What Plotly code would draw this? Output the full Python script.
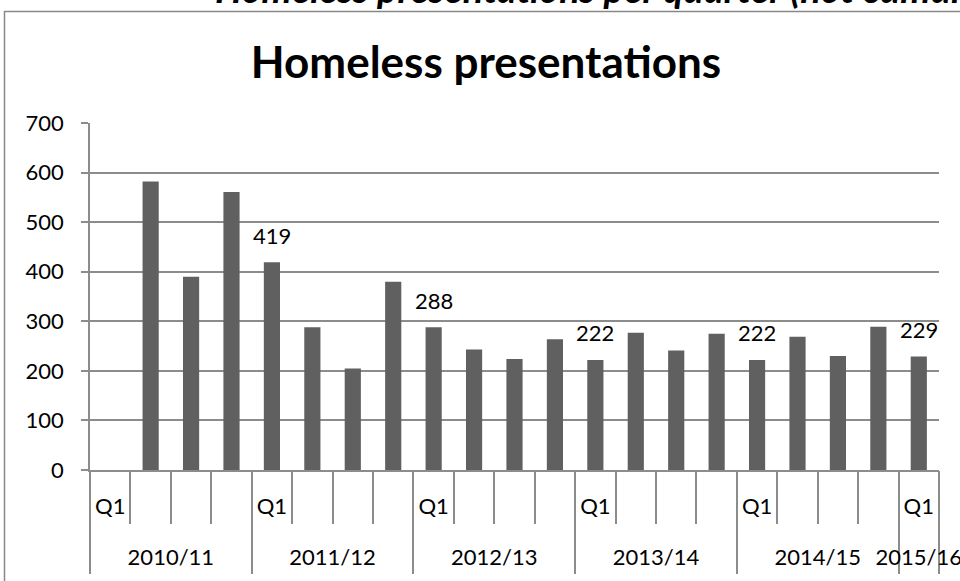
import plotly.graph_objects as go

# ---- data ----
fiscal_years = ["2010/11", "2011/12", "2012/13", "2013/14", "2014/15", "2015/16"]
quarters_per_year = [4, 4, 4, 4, 4, 1]
quarter_labels = ["Q1", "", "", ""]
presentations = [None, 582, 390, 561,
                 419, 288, 205, 380,
                 288, 243, 224, 264,
                 222, 277, 241, 275,
                 222, 269, 230, 289,
                 229]
shown_labels = [None, None, None, None,
                419, None, None, None,
                288, None, None, None,
                222, None, None, None,
                222, None, None, None,
                229]

# ---- category positions derived from the arrays ----
n = len(presentations)
pos = list(range(n))
q_vals, q_text = [], []
year_centers, year_bounds = [], [-0.5]
k = 0
for fy, cnt in zip(fiscal_years, quarters_per_year):
    idx = list(range(k, k + cnt))
    for j, i in enumerate(idx):
        if quarter_labels[j]:
            q_vals.append(i)
            q_text.append(quarter_labels[j])
    year_centers.append(sum(idx) / cnt)
    k += cnt
    year_bounds.append(k - 0.5)
cell_bounds = [b - 0.5 for b in range(n + 1)]

FONT = "Lato"
GRID = "#8c8c8c"
BAR = "#606060"

fig = go.Figure()
fig.add_trace(go.Bar(
    x=pos, y=presentations,
    marker=dict(color=BAR, line=dict(width=0)),
    width=0.4, hoverinfo="skip",
))
# invisible helper trace so the secondary (fiscal-year) axis is drawn
fig.add_trace(go.Scatter(x=[pos[0]], y=[0], xaxis="x2", mode="markers",
                         marker=dict(opacity=0), hoverinfo="skip"))

for i, v in enumerate(shown_labels):
    if v is not None:
        fig.add_annotation(x=pos[i], y=v, text=str(v), showarrow=False,
                           yanchor="middle", yshift=27,
                           font=dict(family=FONT, size=22, color="black"))

fig.add_annotation(xref="paper", yref="paper", x=(213 - 90) / 849, y=1 + (123 - 12.5) / 347,
                   xanchor="left", yanchor="bottom", showarrow=False,
                   text="<b><i>Homeless presentations per quarter (not cumulative)</i></b>",
                   font=dict(family=FONT, size=38, color="black"))

# outer chart border (cropped sheet frame)
bx = (4.5 - 90) / 849
by = 1 + (123 - 11.5) / 347
fig.add_shape(type="path", xref="paper", yref="paper",
              path=f"M {bx} -0.5 L {bx} {by} L 1.2 {by}",
              line=dict(color="#888888", width=1.5))

fig.update_layout(
    width=960, height=581,
    margin=dict(l=90, r=21, t=123, b=111, autoexpand=False),
    paper_bgcolor="white", plot_bgcolor="white",
    showlegend=False,
    title=dict(text="<b>Homeless presentations</b>", x=486/960, xanchor="center",
               y=1 - 63/581, yanchor="middle",
               font=dict(family=FONT, size=44, color="black")),
    font=dict(family=FONT, size=22, color="black"),
    xaxis=dict(range=[-0.5, n - 0.5], tickmode="array", tickvals=q_vals, ticktext=q_text,
               ticks="", showgrid=False, zeroline=False, automargin=False,
               showline=True, linecolor=GRID, linewidth=1.5, tickangle=0,
               ticklabelstandoff=16, ticklabeloverflow="allow",
               tickfont=dict(family=FONT, size=22, color="black"),
               minor=dict(tickmode="array", tickvals=cell_bounds, ticks="outside",
                          ticklen=52, tickcolor=GRID, tickwidth=1.5, showgrid=False)),
    xaxis2=dict(range=[-0.5, n - 0.5], overlaying="x", anchor="y", side="bottom",
                tickmode="array", tickvals=year_centers, ticktext=fiscal_years,
                ticks="", showgrid=False, zeroline=False, showline=False, automargin=False,
                tickangle=0, ticklabelstandoff=72, ticklabeloverflow="allow",
                tickfont=dict(family=FONT, size=22, color="black"),
                minor=dict(tickmode="array", tickvals=year_bounds, ticks="outside",
                           ticklen=103, tickcolor=GRID, tickwidth=1.5, showgrid=False)),
    yaxis=dict(range=[0, 700], dtick=100, showgrid=True, gridcolor=GRID, gridwidth=1.5,
               showline=True, linecolor=GRID, linewidth=1.5, automargin=False,
               ticks="outside", ticklen=7, tickcolor=GRID, tickwidth=1.5,
               ticklabelstandoff=13, zeroline=False,
               tickfont=dict(family=FONT, size=22, color="black")),
)

fig.write_html("out.html", config={"displayModeBar": False},
               post_script="document.body.style.margin='0px';")
